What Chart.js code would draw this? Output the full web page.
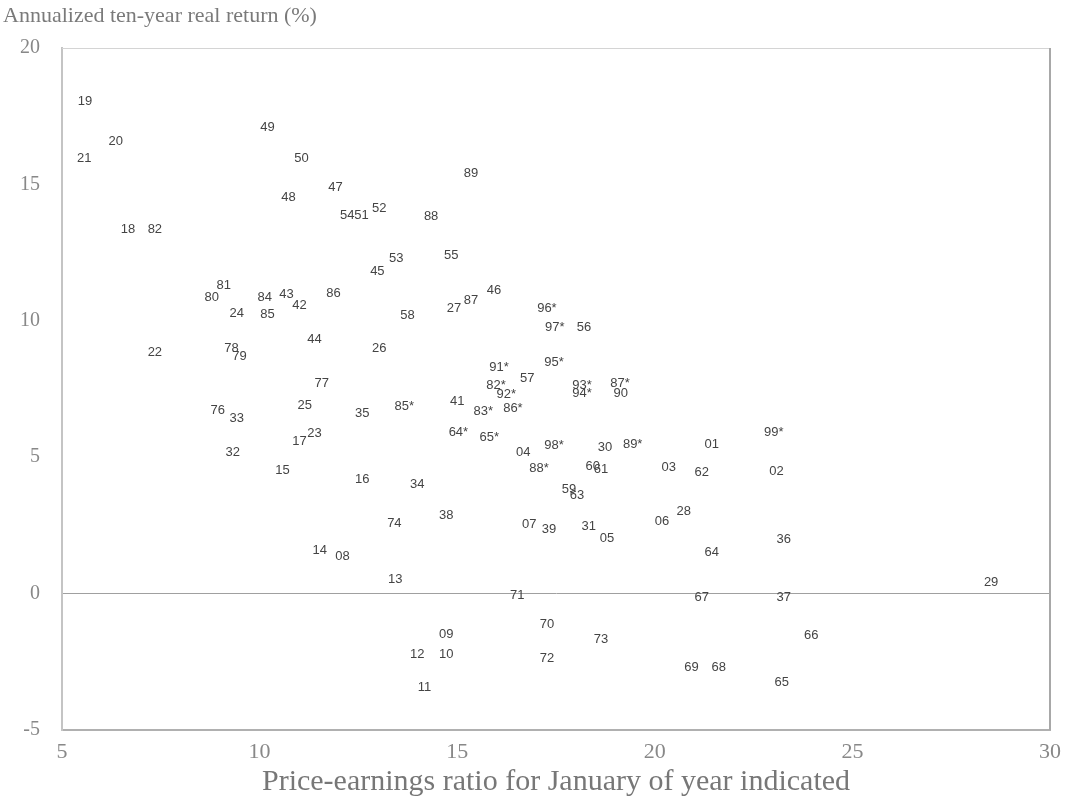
<!DOCTYPE html>
<html>
<head>
    <title>P/E vs ten-year real return</title>
    <script src="https://cdn.jsdelivr.net/npm/chart.js"></script>
    <style>
        body { margin: 0; background: #fff; }
    </style>
</head>
<body>
    <canvas id="peChart" width="1072" height="802"></canvas>

    <script>
        // two-digit year shown at each point (* = nineteenth century)
        var years = ['19', '20', '21', '18', '82', '49', '50', '89', '47', '48',
            '52', '54', '51', '88', '53', '55', '45', '81', '80', '84',
            '43', '86', '24', '85', '42', '27', '87', '46', '96*', '97*',
            '56', '58', '44', '22', '26', '78', '79', '91*', '95*', '57',
            '82*', '92*', '83*', '86*', '41', '93*', '94*', '87*', '90', '77',
            '76', '33', '25', '35', '85*', '64*', '65*', '17', '23', '32',
            '04', '98*', '30', '89*', '01', '99*', '15', '16', '34', '88*',
            '60', '61', '03', '62', '02', '59', '63', '38', '74', '07',
            '39', '31', '05', '06', '28', '64', '36', '14', '08', '13',
            '71', '67', '37', '29', '09', '70', '73', '66', '12', '10',
            '72', '69', '68', '65', '11'];

        // price-earnings ratio for January of each year
        var peRatio = [5.58, 6.36, 5.56, 6.67, 7.35, 10.20, 11.06, 15.35, 11.92, 10.73,
            13.03, 12.22, 12.58, 14.34, 13.46, 14.85, 12.98, 9.09, 8.79, 10.13,
            10.68, 11.87, 9.42, 10.20, 11.01, 14.92, 15.35, 15.93, 17.27, 17.47,
            18.21, 13.74, 11.39, 7.35, 13.03, 9.29, 9.49, 16.06, 17.45, 16.77,
            15.98, 16.24, 15.66, 16.41, 15.00, 18.16, 18.16, 19.12, 19.14, 11.57,
            8.94, 9.42, 11.14, 12.60, 13.66, 15.03, 15.81, 11.01, 11.39, 9.32,
            16.67, 17.45, 18.74, 19.44, 21.44, 23.01, 10.58, 12.60, 13.99, 17.07,
            18.43, 18.64, 20.35, 21.19, 23.08, 17.83, 18.03, 14.72, 13.41, 16.82,
            17.32, 18.33, 18.79, 20.18, 20.73, 21.44, 23.26, 11.52, 12.10, 13.43,
            16.52, 21.19, 23.26, 28.51, 14.72, 17.27, 18.64, 23.96, 13.99, 14.72,
            17.27, 20.93, 21.62, 23.21, 14.17];

        // annualized real return over the following ten years, %
        var realReturn = [18.03, 16.57, 15.95, 13.36, 13.36, 17.08, 15.95, 15.40, 14.89, 14.53,
            14.12, 13.87, 13.87, 13.83, 12.30, 12.41, 11.82, 11.31, 10.84, 10.84,
            10.95, 11.02, 10.26, 10.22, 10.55, 10.47, 10.73, 11.13, 10.47, 9.74,
            9.74, 10.18, 9.31, 8.83, 8.98, 8.98, 8.69, 8.28, 8.47, 7.88,
            7.63, 7.30, 6.68, 6.79, 7.04, 7.63, 7.34, 7.70, 7.34, 7.70,
            6.72, 6.42, 6.90, 6.61, 6.86, 5.91, 5.73, 5.58, 5.88, 5.18,
            5.18, 5.44, 5.36, 5.47, 5.47, 5.91, 4.53, 4.20, 4.01, 4.60,
            4.67, 4.56, 4.64, 4.45, 4.49, 3.83, 3.61, 2.88, 2.59, 2.52,
            2.34, 2.48, 2.01, 2.66, 3.03, 1.50, 1.97, 1.57, 1.35, 0.51,
            -0.07, -0.15, -0.15, 0.40, -1.50, -1.13, -1.68, -1.53, -2.23, -2.23,
            -2.37, -2.70, -2.70, -3.25, -3.43];

        var xTicks = [5, 10, 15, 20, 25, 30];
        var yTicks = [-5, 0, 5, 10, 15, 20];

        var points = peRatio.map(function (pe, i) {
            return { x: pe, y: realReturn[i] };
        });

        // writes the year text where each point sits, plus the frame and the y title
        var yearLabels = {
            id: 'yearLabels',
            afterDatasetsDraw: function (chart) {
                var ctx = chart.ctx;
                var area = chart.chartArea;
                var meta = chart.getDatasetMeta(0);
                ctx.save();
                ctx.strokeStyle = '#d4d4d4';
                ctx.lineWidth = 1;
                ctx.beginPath();
                ctx.moveTo(area.left, area.top + 0.5);
                ctx.lineTo(area.right, area.top + 0.5);
                ctx.stroke();
                ctx.strokeStyle = '#a8a8a8';
                ctx.lineWidth = 2;
                ctx.beginPath();
                ctx.moveTo(area.right, area.top);
                ctx.lineTo(area.right, area.bottom);
                ctx.stroke();

                ctx.font = '13px "Liberation Sans"';
                ctx.fillStyle = '#444';
                ctx.textAlign = 'center';
                ctx.textBaseline = 'middle';
                meta.data.forEach(function (el, i) {
                    ctx.fillText(years[i], el.x, el.y);
                });

                ctx.font = '22px "Liberation Serif"';
                ctx.fillStyle = '#7a7a7a';
                ctx.textAlign = 'left';
                ctx.fillText('Annualized ten-year real return (%)', 3, 16);
                ctx.restore();
            }
        };

        var ctx = document.getElementById('peChart').getContext('2d');
        var myChart = new Chart(ctx, {
            type: 'scatter',
            data: {
                datasets: [{
                    data: points,
                    pointRadius: 0,
                    pointHoverRadius: 0
                }]
            },
            options: {
                responsive: false,
                animation: false,
                layout: { padding: { top: 48, right: 22, left: 0, bottom: 0 } },
                plugins: {
                    legend: { display: false },
                    tooltip: { enabled: false }
                },
                scales: {
                    x: {
                        type: 'linear',
                        min: 5,
                        max: 30,
                        afterBuildTicks: function (scale) {
                            scale.ticks = xTicks.map(function (v) { return { value: v }; });
                        },
                        afterFit: function (scale) { scale.height = 72; },
                        grid: { display: false, drawTicks: false },
                        border: { display: true, color: '#b0b0b0', width: 2 },
                        ticks: {
                            padding: 9,
                            color: '#888',
                            font: { family: 'Liberation Serif', size: 22 }
                        },
                        title: {
                            display: true,
                            text: 'Price-earnings ratio for January of year indicated',
                            color: '#777',
                            padding: { top: 0, bottom: 2 },
                            font: { family: 'Liberation Serif', size: 30 }
                        }
                    },
                    y: {
                        type: 'linear',
                        min: -5,
                        max: 20,
                        afterBuildTicks: function (scale) {
                            scale.ticks = yTicks.map(function (v) { return { value: v }; });
                        },
                        afterFit: function (scale) { scale.width = 62; },
                        grid: {
                            drawTicks: false,
                            color: function (c) {
                                return c.tick && c.tick.value === 0 ? '#a0a0a0' : 'rgba(0,0,0,0)';
                            }
                        },
                        border: { display: true, color: '#c4c4c4', width: 2 },
                        ticks: {
                            padding: 22,
                            color: '#888',
                            font: { family: 'Liberation Serif', size: 20 }
                        }
                    }
                }
            },
            plugins: [yearLabels]
        });
    </script>
</body>
</html>
